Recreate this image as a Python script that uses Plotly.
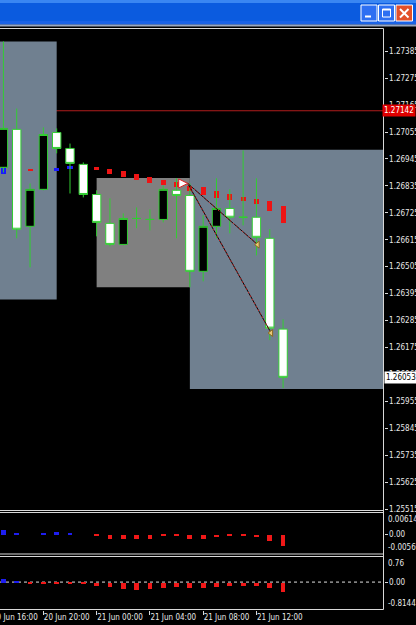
import plotly.graph_objects as go

W, H = 416, 625

# ---------------- data ----------------
# H1 bars, index 1..22 = 20 Jun 17:00 .. 21 Jun 14:00 (index 0 = 20 Jun 16:00)
bar_idx = list(range(1, 23))
opens = [1.26911, 1.27066, 1.26670, 1.26821, 1.27053, 1.26988, 1.26923, 1.26800, 1.26682, 1.26596, 1.26702,
         1.26698, 1.26698, 1.26817, 1.26796, 1.26486, 1.26670, 1.26743, 1.26707, 1.26707, 1.26621, 1.26250]
highs = [1.27425, 1.27151, 1.26845, 1.27074, 1.27070, 1.27008, 1.26931, 1.26817, 1.26784, 1.26723, 1.26747,
         1.26739, 1.26837, 1.26866, 1.26845, 1.26715, 1.26866, 1.26821, 1.26980, 1.26866, 1.26658, 1.26290]
lows = [1.26890, 1.26621, 1.26502, 1.26817, 1.26968, 1.26804, 1.26788, 1.26629, 1.26588, 1.26592, 1.26662,
        1.26653, 1.26686, 1.26621, 1.26421, 1.26445, 1.26621, 1.26641, 1.26674, 1.26551, 1.26205, 1.26009]
closes = [1.27070, 1.26658, 1.26821, 1.27045, 1.26988, 1.26927, 1.26800, 1.26686, 1.26596, 1.26702, 1.26702,
          1.26698, 1.26821, 1.26796, 1.26486, 1.26670, 1.26743, 1.26707, 1.26707, 1.26625, 1.26254, 1.26053]

# colour-coded signal dashes drawn on the price chart
sig_top = [1.26911, 1.26913, 1.26906, 1.26906, 1.26911, 1.26917, 1.26917, 1.26913, 1.26906, 1.26898, 1.26886,
           1.26874, 1.26862, 1.26853, 1.26837, 1.26831, 1.26817, 1.26804, 1.26792, 1.26784, 1.26776, 1.26755]
sig_bot = [1.26886, 1.26902, 1.26896, 1.26898, 1.26898, 1.26906, 1.26906, 1.26902, 1.26886, 1.26874, 1.26862,
           1.26849, 1.26841, 1.26833, 1.26817, 1.26800, 1.26788, 1.26780, 1.26776, 1.26764, 1.26735, 1.26686]
sig_dir = ["up", "up", "dn", "up", "up", "up", "up", "dn", "dn", "dn", "dn",
           "dn", "dn", "dn", "dn", "dn", "dn", "dn", "dn", "dn", "dn", "dn"]

# indicator window 1 (histogram)
hist2 = [0.00124, 0.00030, 0.0, 0.00038, 0.00078, 0.00038, 0.0, -0.00040, -0.00135, -0.00130, -0.00130,
         -0.00130, -0.00050, -0.00030, -0.00135, -0.00130, -0.00080, -0.00050, -0.00050, -0.00080, -0.00190, -0.00330]
p2_max, p2_min = 0.006141, -0.00569

# indicator window 2 (histogram)
hist3 = [0.10, 0.04, -0.04, -0.04, -0.04, -0.04, -0.04, -0.09, -0.14, -0.19, -0.21,
         -0.20, -0.16, -0.13, -0.17, -0.17, -0.14, -0.11, -0.09, -0.10, -0.16, -0.28]
p3_max, p3_min = 0.76, -0.8144

# drawn zones (rectangles): x from/to bar index, price low/high
zone_x0 = [-2, 8, 15]
zone_x1 = [5, 15, 40]
zone_lo = [1.26371, 1.26421, 1.26005]
zone_hi = [1.27425, 1.26867, 1.26983]
zone_kind = ["slate", "gray", "slate"]

# trade: open arrow and two close points
trade_open_x, trade_open_p = 14.84, 1.26845
trade_close_x = [20.09, 21.10]
trade_close_p = [1.26595, 1.26234]

level_price = 1.27142

price_ticks = [1.27385, 1.27275, 1.27165, 1.27055, 1.26945, 1.26835, 1.26725, 1.26615, 1.26505,
               1.26395, 1.26285, 1.26175, 1.26065, 1.25955, 1.25845, 1.25735, 1.25625, 1.25515]
time_idx = [0, 4, 8, 12, 16, 20]
time_labels = ["20 Jun 16:00", "20 Jun 20:00", "21 Jun 00:00", "21 Jun 04:00", "21 Jun 08:00", "21 Jun 12:00"]

x_range = [0.744, 29.54]
main_range = [1.25509, 1.27478]

# ---------------- layout helpers ----------------
def fx(px):
    return px / W


def fy(py):
    return 1 - py / H


PLOT_R = 383.5
MAIN_TOP, MAIN_BOT = 28.5, 510.5
P2_TOP, P2_BOT = 512.5, 554.0
P3_TOP, P3_BOT = 556.5, 609.5

FONT = "Liberation Sans Narrow, DejaVu Sans Condensed, Liberation Sans, Arial, sans-serif"
GREEN = "#32cd32"
TXT = "#e8e8e8"
FRAME = "#d8d8d8"

fig = go.Figure()

fig.add_trace(go.Candlestick(
    x=bar_idx, open=opens, high=highs, low=lows, close=closes,
    increasing=dict(line=dict(color=GREEN, width=1), fillcolor="black"),
    decreasing=dict(line=dict(color=GREEN, width=1), fillcolor="white"),
    whiskerwidth=0, xaxis="x", yaxis="y", hoverinfo="skip", showlegend=False))

sig_colors = ["#1a1aff" if d == "up" else "#ee1414" for d in sig_dir]
fig.add_trace(go.Bar(
    x=bar_idx, y=[t - b for t, b in zip(sig_top, sig_bot)], base=sig_bot,
    width=0.38, marker=dict(color=sig_colors, line=dict(width=0)),
    xaxis="x", yaxis="y", hoverinfo="skip", showlegend=False))

for cx, cp in zip(trade_close_x, trade_close_p):
    fig.add_trace(go.Scatter(x=[trade_open_x, cx], y=[trade_open_p, cp], mode="lines",
                             line=dict(color="black", width=1), xaxis="x", yaxis="y",
                             hoverinfo="skip", showlegend=False))
    fig.add_trace(go.Scatter(x=[trade_open_x, cx], y=[trade_open_p, cp], mode="lines",
                             line=dict(color="#c02828", width=1, dash="2px,2px"), xaxis="x", yaxis="y",
                             hoverinfo="skip", showlegend=False))

fig.add_trace(go.Scatter(x=trade_close_x, y=trade_close_p, mode="markers",
                         marker=dict(symbol="triangle-left", size=6, color="#e8c878",
                                     line=dict(color="#8a6a20", width=1)),
                         xaxis="x", yaxis="y", hoverinfo="skip", showlegend=False))
fig.add_trace(go.Scatter(x=[trade_open_x], y=[trade_open_p], mode="markers",
                         marker=dict(symbol="arrow-right", size=9, color="white",
                                     line=dict(color="#e02020", width=1)),
                         xaxis="x", yaxis="y", hoverinfo="skip", showlegend=False))

fig.add_trace(go.Bar(
    x=bar_idx, y=hist2, width=0.36,
    marker=dict(color=["#1e1ef0" if v > 0 else "#f01818" for v in hist2], line=dict(width=0)),
    xaxis="x2", yaxis="y2", hoverinfo="skip", showlegend=False))
fig.add_trace(go.Bar(
    x=bar_idx, y=hist3, width=0.36,
    marker=dict(color=["#1e1ef0" if v > 0 else "#f01818" for v in hist3], line=dict(width=0)),
    xaxis="x3", yaxis="y3", hoverinfo="skip", showlegend=False))

shapes = []
zone_fill = {"slate": "#708090", "gray": "#808080"}
for x0, x1, lo, hi, k in zip(zone_x0, zone_x1, zone_lo, zone_hi, zone_kind):
    shapes.append(dict(type="rect", xref="x", yref="y", x0=x0, x1=x1, y0=lo, y1=hi,
                       fillcolor=zone_fill[k], line=dict(width=0), layer="below"))
shapes.append(dict(type="line", xref="x domain", yref="y", x0=0, x1=1, y0=level_price, y1=level_price,
                   line=dict(color="#b01c1c", width=1), layer="below"))
shapes.append(dict(type="line", xref="x3 domain", yref="y3", x0=0, x1=1, y0=0, y1=0,
                   line=dict(color="#e0e0e0", width=1, dash="3px,3px"), layer="below"))

# frame lines
for py in [MAIN_TOP, MAIN_BOT, P2_TOP, P2_BOT, P3_TOP, P3_BOT]:
    shapes.append(dict(type="line", xref="paper", yref="paper", x0=0, x1=fx(PLOT_R), y0=fy(py), y1=fy(py),
                       line=dict(color=FRAME, width=1)))
shapes.append(dict(type="line", xref="paper", yref="paper", x0=fx(PLOT_R), x1=fx(PLOT_R),
                   y0=fy(MAIN_TOP), y1=fy(P3_BOT), line=dict(color=FRAME, width=1)))

# window title bar
shapes.append(dict(type="rect", xref="paper", yref="paper", x0=0, x1=1, y0=fy(24.5), y1=1,
                   fillcolor="#0b5bdf", line=dict(width=0)))
shapes.append(dict(type="rect", xref="paper", yref="paper", x0=0, x1=1, y0=fy(3), y1=1,
                   fillcolor="#3a86f2", line=dict(width=0)))
shapes.append(dict(type="rect", xref="paper", yref="paper", x0=0, x1=1, y0=fy(24.5), y1=fy(21),
                   fillcolor="#1a62e6", line=dict(width=0)))
shapes.append(dict(type="rect", xref="paper", yref="paper", x0=0, x1=1, y0=fy(26.5), y1=fy(24.5),
                   fillcolor="#9aa6bd", line=dict(width=0)))
for bx0, bx1, col in [(361, 377, "#2d6ff2"), (378.5, 394.5, "#2d6ff2"), (396, 412.5, "#e2502a")]:
    shapes.append(dict(type="rect", xref="paper", yref="paper", x0=fx(bx0), x1=fx(bx1), y0=fy(21), y1=fy(5),
                       fillcolor=col, line=dict(color="white", width=1)))
shapes.append(dict(type="rect", xref="paper", yref="paper", x0=fx(365), x1=fx(371), y0=fy(17.5), y1=fy(15.5),
                   fillcolor="white", line=dict(width=0)))
shapes.append(dict(type="rect", xref="paper", yref="paper", x0=fx(382.5), x1=fx(390.5), y0=fy(17), y1=fy(9),
                   fillcolor="rgba(0,0,0,0)", line=dict(color="white", width=1)))
shapes.append(dict(type="rect", xref="paper", yref="paper", x0=fx(382.5), x1=fx(390.5), y0=fy(10.5), y1=fy(9),
                   fillcolor="white", line=dict(width=0)))
shapes.append(dict(type="line", xref="paper", yref="paper", x0=fx(400), x1=fx(408.5), y0=fy(9), y1=fy(17.5),
                   line=dict(color="white", width=2)))
shapes.append(dict(type="line", xref="paper", yref="paper", x0=fx(408.5), x1=fx(400), y0=fy(9), y1=fy(17.5),
                   line=dict(color="white", width=2)))

annotations = []
lab_x = fx(386)
for yref, vmax, vmin in [("y2", p2_max, p2_min), ("y3", p3_max, p3_min)]:
    annotations.append(dict(xref="paper", yref=yref, x=lab_x, y=vmax, text=f"{vmax:g}", showarrow=False,
                            xanchor="left", yanchor="top", font=dict(size=8, color=TXT, family=FONT)))
    annotations.append(dict(xref="paper", yref=yref, x=lab_x, y=vmin, text=f"{vmin:g}", showarrow=False,
                            xanchor="left", yanchor="bottom", font=dict(size=8, color=TXT, family=FONT)))
annotations.append(dict(xref="paper", yref="y", x=fx(381.5), y=level_price, text=f"{level_price:.5f}",
                        showarrow=False, xanchor="left", yanchor="middle", bgcolor="#e00000", borderpad=1,
                        font=dict(size=8, color="white", family=FONT)))
annotations.append(dict(xref="paper", yref="y", x=fx(384), y=closes[-1], text=f"{closes[-1]:.5f}",
                        showarrow=False, xanchor="left", yanchor="middle", bgcolor="white", borderpad=1,
                        font=dict(size=8, color="black", family=FONT)))
# first time label, its tick lies left of the visible area
t0_px = (time_idx[0] - x_range[0]) / (x_range[1] - x_range[0]) * PLOT_R
annotations.append(dict(xref="paper", yref="paper", x=fx(t0_px), y=fy(617), text=time_labels[0],
                        showarrow=False, xanchor="left", yanchor="middle",
                        font=dict(size=8, color=TXT, family=FONT)))

axis_common = dict(showgrid=False, zeroline=False, showline=False, fixedrange=True, automargin=False)

fig.update_layout(
    template="none",
    width=W, height=H, autosize=False,
    margin=dict(l=0, r=0, t=0, b=0, pad=0),
    paper_bgcolor="black", plot_bgcolor="black",
    showlegend=False, boxgap=0.37, boxgroupgap=0, bargap=0, barmode="overlay",
    font=dict(family=FONT, size=8, color=TXT),
    xaxis=dict(domain=[0, fx(PLOT_R)], range=x_range, anchor="y", showticklabels=False, ticks="",
               rangeslider=dict(visible=False), **axis_common),
    xaxis2=dict(domain=[0, fx(PLOT_R)], range=x_range, anchor="y2", showticklabels=False, ticks="",
                **axis_common),
    xaxis3=dict(domain=[0, fx(PLOT_R)], range=x_range, anchor="y3", tickmode="array",
                tickvals=time_idx[1:], ticktext=time_labels[1:], ticks="outside", ticklen=4,
                tickcolor=FRAME, tickwidth=1, ticklabelposition="outside right", tickangle=0,
                tickfont=dict(size=8, color=TXT, family=FONT), **axis_common),
    yaxis=dict(domain=[fy(MAIN_BOT), fy(MAIN_TOP)], range=main_range, anchor="x", side="right",
               tickmode="array", tickvals=price_ticks, ticktext=[f"{v:.5f}" for v in price_ticks],
               ticks="outside", ticklen=3, tickcolor=FRAME, tickwidth=1,
               tickfont=dict(size=8, color=TXT, family=FONT), **axis_common),
    yaxis2=dict(domain=[fy(P2_BOT), fy(P2_TOP)], range=[p2_min, p2_max], anchor="x2", side="right",
                tickmode="array", tickvals=[0], ticktext=["0.00"], ticks="outside", ticklen=3,
                tickcolor=FRAME, tickfont=dict(size=8, color=TXT, family=FONT), **axis_common),
    yaxis3=dict(domain=[fy(P3_BOT), fy(P3_TOP)], range=[p3_min, p3_max], anchor="x3", side="right",
                tickmode="array", tickvals=[0], ticktext=["0.00"], ticks="outside", ticklen=3,
                tickcolor=FRAME, tickfont=dict(size=8, color=TXT, family=FONT), **axis_common),
    shapes=shapes,
    annotations=annotations,
)

fig.write_html("out.html")
